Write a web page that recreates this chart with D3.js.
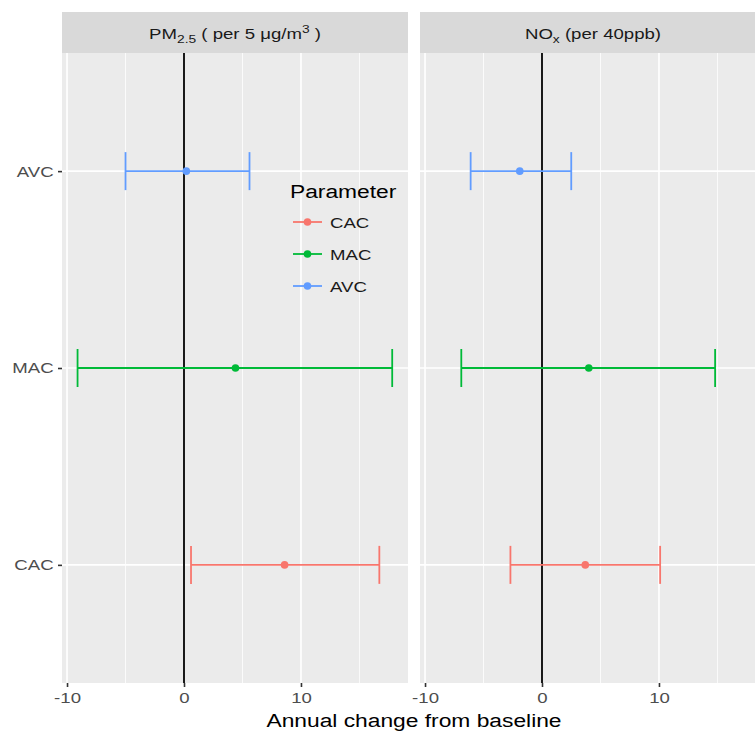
<!DOCTYPE html>
<html>
<head>
<meta charset="utf-8">
<script src="https://cdn.jsdelivr.net/npm/d3@7"></script>
<style>
  body { margin: 0; background: #fff; }
  svg { display: block; font-family: "Liberation Sans", Arial, sans-serif; }
</style>
</head>
<body>
<div id="chart"></div>
<script>
// data
var parameters = ["CAC", "MAC", "AVC"];
var colors = ["#F8766D", "#00BA38", "#619CFF"];
var facets = ["pm", "nox"];
var pmEst = [8.6, 4.4, 0.2];
var pmLow = [0.6, -9.1, -5.0];
var pmHigh = [16.7, 17.8, 5.6];
var noxEst = [3.7, 4.0, -1.9];
var noxLow = [-2.7, -6.9, -6.1];
var noxHigh = [10.1, 14.8, 2.5];
var xTicks = [-10, 0, 10];
var xMinor = [-5, 5, 15];

var width = 755, height = 733;
var margin = {top: 12, left: 62, bottom: 50},
    stripH = 41, panelW = 346, gap = 12;
var stretch = 'scale(1.2,1)';  // the picture's text is wider than it is tall

var svg = d3.select('#chart').append('svg')
  .attr('width', width)
  .attr('height', height);

// text placed at (tx,ty) and stretched sideways
function label(parent, tx, ty) {
  return parent.append('g')
    .attr('transform', 'translate(' + tx + ',' + ty + ') ' + stretch)
    .append('text');
}

var panelTop = margin.top + stripH,
    panelBottom = height - margin.bottom;

var x = d3.scaleLinear().domain([-10.43, 19.15]).range([0, panelW]);
var y = d3.scalePoint().domain(parameters.slice().reverse())
  .range([panelTop, panelBottom]).padding(0.6);

var rows = [
  {est: pmEst, lo: pmLow, hi: pmHigh},
  {est: noxEst, lo: noxLow, hi: noxHigh}
];

facets.forEach(function(f, i) {
  var x0 = margin.left + i * (panelW + gap);
  var g = svg.append('g').attr('transform', 'translate(' + x0 + ',0)');

  // strip
  g.append('rect')
    .attr('y', margin.top).attr('width', panelW).attr('height', stripH)
    .attr('fill', '#d9d9d9');
  var st = label(g, panelW / 2, margin.top + stripH / 2 + 6)
    .attr('text-anchor', 'middle')
    .attr('font-size', 15.5).attr('fill', '#1a1a1a');
  if (f === 'pm') {
    st.append('tspan').text('PM');
    st.append('tspan').attr('font-size', 11.5).attr('dy', 4).text('2.5');
    st.append('tspan').attr('dy', -4).text(' ( per 5 \u03bcg/m');
    st.append('tspan').attr('font-size', 11.5).attr('dy', -6).text('3');
    st.append('tspan').attr('dy', 6).text(' )');
  } else {
    st.append('tspan').text('NO');
    st.append('tspan').attr('font-size', 11.5).attr('dy', 4).text('x');
    st.append('tspan').attr('dy', -4).text(' (per 40ppb)');
  }

  // panel background + grid
  g.append('rect')
    .attr('y', panelTop).attr('width', panelW).attr('height', panelBottom - panelTop)
    .attr('fill', '#ebebeb');
  g.selectAll('.minor').data(xMinor).enter().append('line')
    .attr('x1', x).attr('x2', x)
    .attr('y1', panelTop).attr('y2', panelBottom)
    .attr('stroke', '#fff').attr('stroke-width', 0.8);
  g.selectAll('.major').data(xTicks).enter().append('line')
    .attr('x1', x).attr('x2', x)
    .attr('y1', panelTop).attr('y2', panelBottom)
    .attr('stroke', '#fff').attr('stroke-width', 1.6);
  g.selectAll('.hgrid').data(parameters).enter().append('line')
    .attr('x1', 0).attr('x2', panelW)
    .attr('y1', y).attr('y2', y)
    .attr('stroke', '#fff').attr('stroke-width', 1.6);

  // zero line
  g.append('line')
    .attr('x1', x(0)).attr('x2', x(0))
    .attr('y1', panelTop).attr('y2', panelBottom)
    .attr('stroke', '#000').attr('stroke-width', 1.8);

  // error bars
  var r = rows[i];
  var capH = 19;
  parameters.forEach(function(p, k) {
    var yy = y(p), c = colors[k];
    g.append('line')
      .attr('x1', x(r.lo[k])).attr('x2', x(r.hi[k]))
      .attr('y1', yy).attr('y2', yy)
      .attr('stroke', c).attr('stroke-width', 1.8);
    [r.lo[k], r.hi[k]].forEach(function(v) {
      g.append('line')
        .attr('x1', x(v)).attr('x2', x(v))
        .attr('y1', yy - capH).attr('y2', yy + capH)
        .attr('stroke', c).attr('stroke-width', 1.8);
    });
    g.append('circle')
      .attr('cx', x(r.est[k])).attr('cy', yy).attr('r', 3.8)
      .attr('fill', c);
  });

  // x axis
  var xa = g.append('g').attr('transform', 'translate(0,' + panelBottom + ')')
    .call(d3.axisBottom(x).tickValues(xTicks).tickSize(4).tickPadding(5));
  xa.select('.domain').remove();
  xa.selectAll('line').attr('stroke', '#333').attr('stroke-width', 1.6);
  xa.selectAll('text').attr('font-size', 15.5).attr('fill', '#4d4d4d')
    .attr('font-family', '"Liberation Sans", Arial, sans-serif')
    .attr('transform', stretch)
    .text(function(d) { return d; });
});

// y axis
var ya = svg.append('g').attr('transform', 'translate(' + margin.left + ',0)')
  .call(d3.axisLeft(y).tickSize(4).tickPadding(3));
ya.select('.domain').remove();
ya.selectAll('line').attr('stroke', '#333').attr('stroke-width', 1.6);
ya.selectAll('text').attr('font-size', 15.5).attr('fill', '#4d4d4d')
  .attr('font-family', '"Liberation Sans", Arial, sans-serif')
  .attr('transform', stretch);

// x axis title
label(svg, 414, 727)
  .attr('text-anchor', 'middle')
  .attr('font-size', 19).attr('fill', '#000')
  .text('Annual change from baseline');

// legend
var leg = svg.append('g').attr('transform', 'translate(288,0)');
label(leg, 2, 198)
  .attr('font-size', 19).attr('fill', '#000')
  .text('Parameter');
var legY = [222, 254, 286];
parameters.forEach(function(p, k) {
  leg.append('line')
    .attr('x1', 5).attr('x2', 34)
    .attr('y1', legY[k]).attr('y2', legY[k])
    .attr('stroke', colors[k]).attr('stroke-width', 1.8);
  leg.append('circle')
    .attr('cx', 19.5).attr('cy', legY[k]).attr('r', 3.8)
    .attr('fill', colors[k]);
  label(leg, 42, legY[k] + 5.5)
    .attr('font-size', 15.5).attr('fill', '#1a1a1a')
    .text(p);
});
</script>
</body>
</html>
